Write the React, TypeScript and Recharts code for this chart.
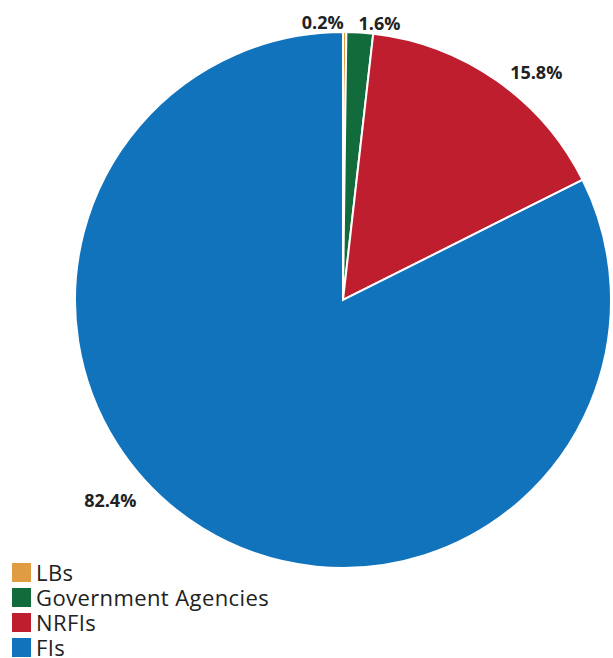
import { Cell, Pie, PieChart } from 'recharts'

const categories = ['LBs', 'Government Agencies', 'NRFIs', 'FIs']
const shares = [0.2, 1.6, 15.8, 82.4]
const colors = ['#DF9C42', '#126B3A', '#BE1E2E', '#1173BC']

// Excel-style label nudges (angle shift in degrees, extra radius, text anchor)
const labelNudge = [
	{ da: 0, dr: 10, dx: -1, anchor: 'end' },
	{ da: 0, dr: 10, dx: -2, anchor: 'start' },
	{ da: 0, dr: 10, dx: 8, anchor: 'start' },
	{ da: -14, dr: 18, dx: -2, anchor: 'end' },
]

const data = categories.map((name, i) => ({ name, value: shares[i] }))

const RAD = Math.PI / 180

const renderLabel = (props: any) => {
	const { cx, cy, midAngle, outerRadius, index, value } = props
	const n = labelNudge[index]
	const a = (midAngle + n.da) * RAD
	const r = outerRadius + n.dr
	const x = cx + Math.cos(a) * r + n.dx
	const y = cy - Math.sin(a) * r
	return (
		<text
			x={x}
			y={y}
			textAnchor={n.anchor}
			dominantBaseline="central"
			fill="#222"
			fontSize={18}
			fontWeight="bold"
			fontFamily="'Open Sans', sans-serif"
		>
			{value.toFixed(1)}%
		</text>
	)
}

export default function App() {
	return (
		<div style={{ position: 'absolute', left: 0, top: 0, width: 613, height: 658, background: '#fff' }}>
			<PieChart width={613} height={658} margin={{ top: 0, right: 0, bottom: 0, left: 0 }}>
				<Pie
					data={data}
					dataKey="value"
					nameKey="name"
					cx={343}
					cy={300}
					outerRadius={268}
					startAngle={90}
					endAngle={-270}
					stroke="#fff"
					strokeWidth={2}
					label={renderLabel}
					labelLine={false}
					isAnimationActive={false}
				>
					{data.map((d, i) => (
						<Cell key={d.name} fill={colors[i]} />
					))}
				</Pie>
			</PieChart>
			<ul
				style={{
					position: 'absolute',
					left: 12,
					top: 560,
					margin: 0,
					padding: 0,
					listStyle: 'none',
					fontFamily: "'Open Sans', sans-serif",
					fontSize: 22,
					lineHeight: '25px',
					letterSpacing: 0.4,
				}}
			>
				{categories.map((c, i) => (
					<li key={c} style={{ display: 'flex', alignItems: 'center', height: 25 }}>
						<span style={{ width: 19, height: 19, background: colors[i], marginRight: 5, display: 'inline-block' }} />
						<span style={{ color: '#222' }}>{c}</span>
					</li>
				))}
			</ul>
		</div>
	)
}
